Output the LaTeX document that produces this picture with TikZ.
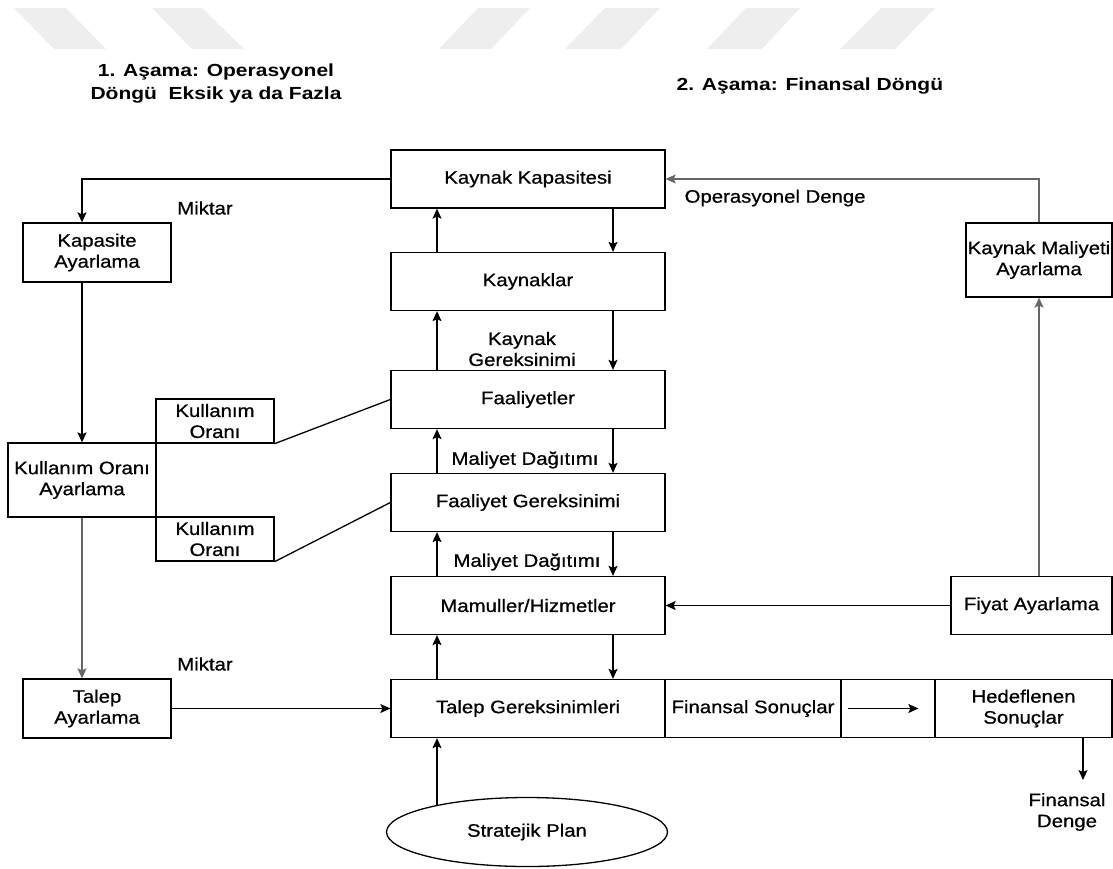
\documentclass[tikz,border=0pt]{standalone}
\usepackage{fontspec}
\setmainfont{Liberation Sans}[FakeStretch=1.13,FakeBold=0.7]
\newfontfamily\baslikfont{Liberation Sans Bold}[FakeStretch=1.2]
\usetikzlibrary{arrows.meta}
\usetikzlibrary{shapes.geometric}
\definecolor{filigran}{HTML}{EEEEEE}
\tikzset{kutu/.style={draw,inner sep=0pt,align=center,font=\fontsize{18}{21}\selectfont}}
\tikzset{orta/.style={kutu,minimum width=274pt,minimum height=58pt}}
\tikzset{yazi/.style={align=center,inner sep=0pt,font=\fontsize{18}{21}\selectfont}}
\tikzset{baslik/.style={align=center,inner sep=0pt,font=\baslikfont\fontsize{17.5}{23}\selectfont}}
\tikzset{ok/.style={-{Stealth[length=10pt,width=9pt,inset=2pt]}}}
\tikzset{gri/.style={draw=black!60}}

\begin{document}
\begin{tikzpicture}[x=1pt,y=-1pt,line width=1.3pt]
            \path[use as bounding box,fill=white] (0,0) rectangle (1113,868);
            % filigran
            \fill[filigran] (14,8)--(66,8)--(106,49)--(54,49)--cycle;
            \fill[filigran] (152,8)--(202,8)--(244,49)--(192,49)--cycle;
            \fill[filigran] (478,8)--(530,8)--(491,49)--(439,49)--cycle;
            \fill[filigran] (605,8)--(660,8)--(621,49)--(565,49)--cycle;
            \fill[filigran] (746,8)--(800,8)--(762,49)--(707,49)--cycle;
            \fill[filigran] (881,8)--(935,8)--(895,49)--(840,49)--cycle;
            \node[baslik] (a1) at (216,84) {1. Aşama: Operasyonel\\Döngü~ Eksik ya da Fazla};
            \node[baslik,anchor=west] (a2) at (676,86) {2. Aşama: Finansal Döngü};
            \coordinate (yukari) at (437,0);
            \coordinate (asagi) at (613,0);
            % orta sutun
            \node[orta] (kk) at (528,179) {Kaynak Kapasitesi};
            \node[orta] (kay) at (528,281.5) {Kaynaklar};
            \node[orta] (faa) at (528,399.5) {Faaliyetler};
            \node[orta] (fg) at (528,502.5) {Faaliyet Gereksinimi};
            \node[orta] (mh) at (528,605.5) {Mamuller/Hizmetler};
            \node[orta] (tg) at (528,708.5) {Talep Gereksinimleri};
            \node[kutu,minimum width=176pt,minimum height=58pt] (fs) at (753,708.5) {Finansal Sonuçlar};
            \node[kutu,minimum width=94pt,minimum height=58pt] (bos) at (888,708.5) {};
            \node[kutu,minimum width=177pt,minimum height=58pt] (hs) at (1023.5,708.5) {Hedeflenen\\Sonuçlar};
            \node[kutu,ellipse,minimum width=281pt,minimum height=69pt] (sp) at (527,832) {Stratejik Plan};
            % sol sutun
            \node[kutu,minimum width=148pt,minimum height=59pt] (ka) at (97,252.5) {Kapasite\\Ayarlama};
            \node[kutu,minimum width=148pt,minimum height=74pt] (koa) at (82,480) {Kullanım Oranı\\Ayarlama};
            \node[kutu,minimum width=118pt,minimum height=44pt] (ko1) at (215,421) {Kullanım\\Oranı};
            \node[kutu,minimum width=118pt,minimum height=44pt] (ko2) at (215,539) {Kullanım\\Oranı};
            \node[kutu,minimum width=148pt,minimum height=59pt] (ta) at (97,708.5) {Talep\\Ayarlama};
            % sag sutun
            \node[kutu,minimum width=146pt,minimum height=74pt] (kma) at (1039,260) {Kaynak Maliyeti\\Ayarlama};
            \node[kutu,minimum width=161pt,minimum height=58pt] (fa) at (1031.5,605.5) {Fiyat Ayarlama};
            % etiketler
            \node[yazi] (m1) at (205,208) {Miktar};
            \node[yazi] (m2) at (205,664) {Miktar};
            \node[yazi,anchor=west] (od) at (684,198) {Operasyonel Denge};
            \node[yazi] (kg) at (522,349) {Kaynak\\Gereksinimi};
            \node[yazi] (md1) at (525,460) {Maliyet Dağıtımı};
            \node[yazi] (md2) at (527,562) {Maliyet Dağıtımı};
            \node[yazi] (fd) at (1067,812) {Finansal\\Denge};
            \coordinate (fdok) at (1083,780);
            % baglantilar
            \draw[ok] (kk.west) -| (ka.north -| koa);
            \draw[ok] (ka.south -| koa) -- (koa.north);
            \draw[ok,gri] (koa.south) -- (ta.north -| koa);
            \draw[ok] (ta.east) -- (tg.west);
            \draw (ko1.south east) -- (faa.west);
            \draw (ko2.south east) -- (fg.west);
            \draw[ok] (yukari |- kay.north) -- (yukari |- kk.south);
            \draw[ok] (asagi |- kk.south) -- (asagi |- kay.north);
            \draw[ok] (yukari |- faa.north) -- (yukari |- kay.south);
            \draw[ok] (asagi |- kay.south) -- (asagi |- faa.north);
            \draw[ok] (yukari |- fg.north) -- (yukari |- faa.south);
            \draw[ok] (asagi |- faa.south) -- (asagi |- fg.north);
            \draw[ok] (yukari |- mh.north) -- (yukari |- fg.south);
            \draw[ok] (asagi |- fg.south) -- (asagi |- mh.north);
            \draw[ok] (yukari |- tg.north) -- (yukari |- mh.south);
            \draw[ok] (asagi |- mh.south) -- (asagi |- tg.north);
            \draw[ok] (yukari |- sp.163) -- (yukari |- tg.south);
            \draw[ok,gri] (kma.north) |- (kk.east);
            \draw[ok,gri] (fa.north -| kma) -- (kma.south);
            \draw[ok] (fa.west) -- (mh.east);
            \draw[ok,shorten <=6pt,shorten >=16pt] (fs.east) -- (hs.west);
            \draw[ok] (hs.south -| fdok) -- (fdok);
          \end{tikzpicture}
\end{document}
